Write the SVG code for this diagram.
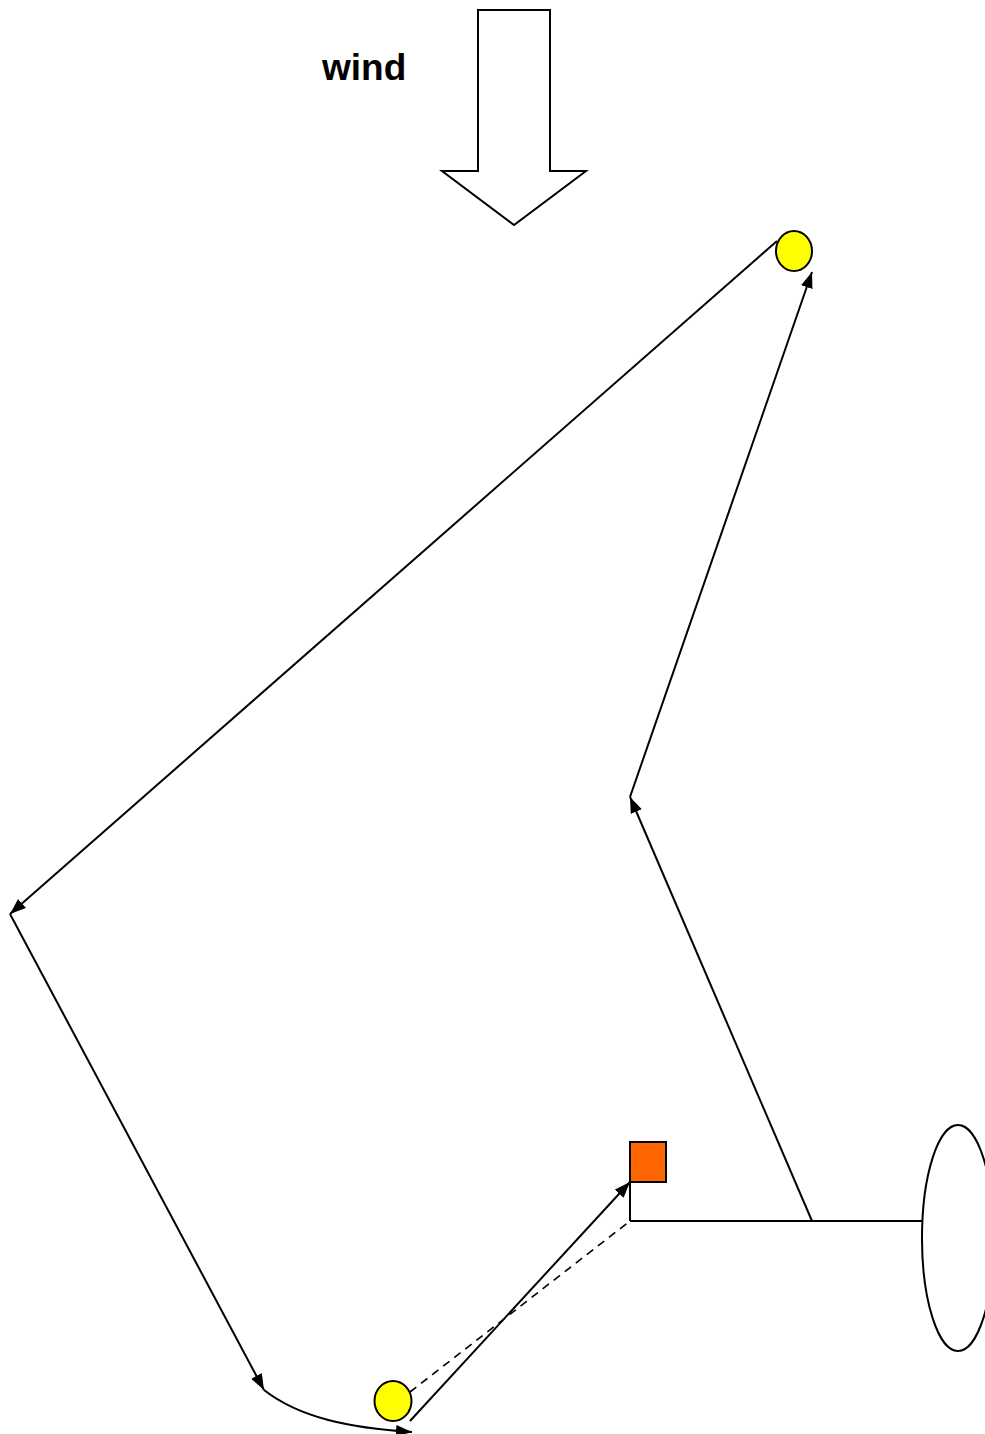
<svg xmlns="http://www.w3.org/2000/svg" width="985" height="1434" viewBox="0 0 985 1434">
<defs>
<style>
.ln{fill:none;stroke:#000;stroke-width:2}
.dash{fill:none;stroke:#000;stroke-width:1.6;stroke-dasharray:8,6}
.yel{fill:#ffff00;stroke:#000;stroke-width:2}
.lbl{font-family:"Liberation Sans",Arial,sans-serif;font-weight:bold;font-size:37px;fill:#000}
</style>
<marker id="ah" markerUnits="userSpaceOnUse" markerWidth="18" markerHeight="14" refX="16" refY="6" orient="auto">
<path d="M0,0 L16,6 L0,12 z" fill="#000"/>
</marker>
</defs>
<rect width="985" height="1434" fill="#fff"/>
<g id="wind-label"><text class="lbl" x="322" y="80">wind</text></g>
<g id="wind-arrow"><path class="ln" d="M478,10 H550 V171 H586 L514,225 L442,171 H478 Z" fill="#fff"/></g>
<g id="connectors">
<line class="ln" x1="777" y1="241" x2="10" y2="914" marker-end="url(#ah)"/>
<line class="ln" x1="10" y1="914" x2="264" y2="1390" marker-end="url(#ah)"/>
<path class="ln" d="M264,1390 C300,1418 350,1428 412,1432" marker-end="url(#ah)"/>
<line class="ln" x1="410" y1="1421" x2="630" y2="1182" marker-end="url(#ah)"/>
<line class="dash" x1="410" y1="1392" x2="630" y2="1221"/>
<line class="ln" x1="630" y1="1182" x2="630" y2="1221"/>
<line class="ln" x1="630" y1="1221" x2="922" y2="1221"/>
<line class="ln" x1="812" y1="1221" x2="630" y2="797" marker-end="url(#ah)"/>
<line class="ln" x1="630" y1="797" x2="812" y2="272" marker-end="url(#ah)"/>
</g>
<g id="mark-top"><ellipse class="yel" cx="794" cy="251" rx="18" ry="20"/></g>
<g id="mark-bottom"><ellipse class="yel" cx="393" cy="1401" rx="18.5" ry="20"/></g>
<g id="boat"><rect x="630" y="1142" width="36" height="40" fill="#ff6600" stroke="#000" stroke-width="2"/></g>
<g id="pin-end"><ellipse class="ln" cx="958" cy="1238" rx="36" ry="113"/></g>
</svg>
